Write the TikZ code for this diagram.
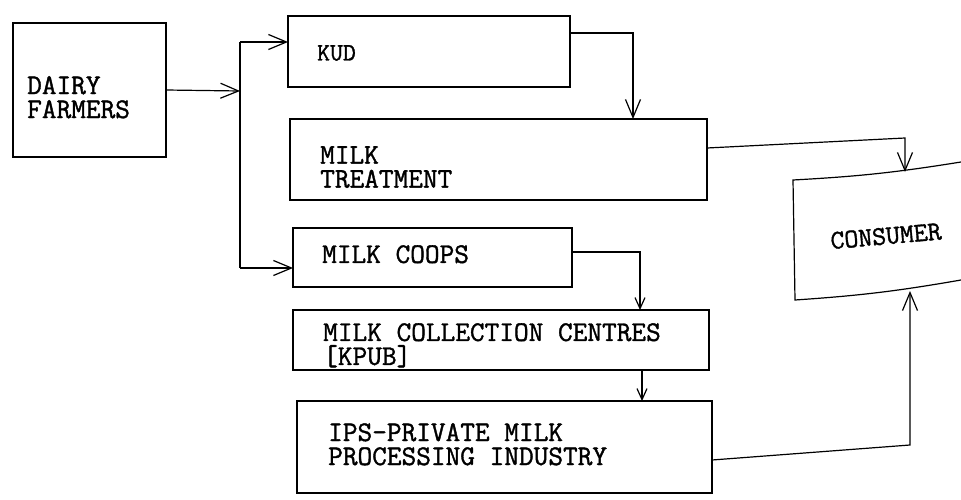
\documentclass[tikz,border=0pt]{standalone}
\usepackage{fontspec}
\newfontfamily\typew[FakeBold=1.3]{Latin Modern Mono}
\usetikzlibrary{arrows.meta,calc}
\begin{document}
\begin{tikzpicture}[x=1pt,y=-1pt,
  box/.style={draw,line width=1.2pt,inner sep=0pt,outer sep=0pt,anchor=north west},
  lbl/.style={font=\typew\fontsize{28.5}{24}\selectfont,inner sep=0pt,anchor=north west,align=left},
  conn/.style={line width=1.2pt},
  arr/.style={conn,-{Straight Barb[length=18pt,width=15pt,line width=1.2pt]}},
  sarr/.style={conn,-{Straight Barb[length=11pt,width=10pt,line width=1.2pt]}}]
\useasboundingbox (0,0) rectangle (961,500);
% boxes
\node[box,minimum width=153pt,minimum height=134pt] (df) at (13,23) {};
\node[box,minimum width=282pt,minimum height=71pt] (kud) at (288,16) {};
\node[box,minimum width=417pt,minimum height=81pt] (mt) at (290,119) {};
\node[box,minimum width=279pt,minimum height=59pt] (coops) at (293,228) {};
\node[box,minimum width=416pt,minimum height=60pt] (mcc) at (293,310) {};
\node[box,minimum width=415pt,minimum height=92pt] (ips) at (297,401) {};
% labels
\node[lbl] (tdf) at (27,76) {DAIRY\\FARMERS};
\node[lbl,font=\typew\fontsize{25}{22}\selectfont] (tkud) at (317,45) {KUD};
\node[lbl] (tmt) at (320,146) {MILK\\TREATMENT};
\node[lbl] (tcoops) at (322,245) {MILK COOPS};
\node[lbl] (tmcc) at (323,323) {MILK COLLECTION CENTRES\\{[KPUB]}};
\node[lbl] (tips) at (328,423) {IPS-PRIVATE MILK\\PROCESSING INDUSTRY};
% consumer
\draw[line width=1.2pt] (961,162) to[bend left=3] (793,180) -- (795,300) to[bend right=3] (961,280);
\coordinate (ctop) at (905,172);
\coordinate (cbot) at (910,291);
\node[font=\typew\fontsize{27}{22}\selectfont,inner sep=0pt,rotate=5] (tcons) at (886,236) {CONSUMER};
% connectors
\coordinate (split) at (240,91);
\coordinate (bt) at (240,42);
\coordinate (bb) at (240,268);
\draw[arr] (df.east) -- (split);
\draw[conn] (bt) -- (bb);
\draw[arr] (bt) -- (kud.west |- bt);
\draw[arr] (bb) -- (coops.west |- bb);
\draw[arr] ($(kud.north east)+(0,17)$) -| ($(mt.north west)+(343,0)$);
\draw[arr] ($(mt.north east)+(0,29)$) -- (905,138) -- (ctop);
\draw[sarr] ($(coops.north east)+(0,24)$) -| ($(mcc.north west)+(347,0)$);
\draw[sarr] ($(mcc.south west)+(349,0)$) -- ($(ips.north west)+(345,0)$);
\draw[arr] ($(ips.north east)+(0,59)$) -- (910,445) -- (cbot);
\end{tikzpicture}
\end{document}
